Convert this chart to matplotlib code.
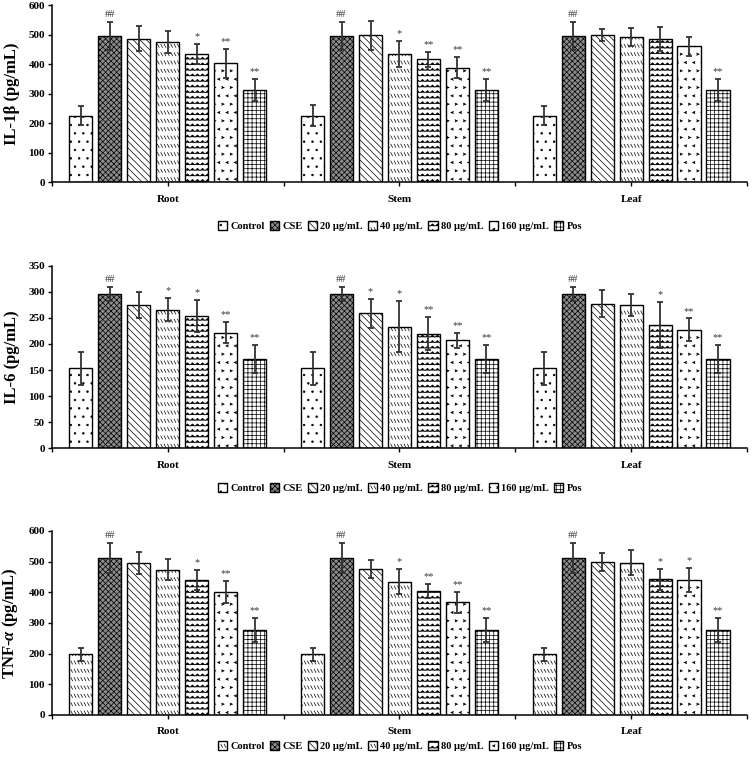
import numpy as np
import matplotlib
matplotlib.use("Agg")
import matplotlib.pyplot as plt
import matplotlib.hatch as mhatch
from matplotlib.path import Path

groups = ['Root', 'Stem', 'Leaf']
treatments = ['Control', 'CSE', '20 μg/mL', '40 μg/mL', '80 μg/mL', '160 μg/mL', 'Pos']

# rows = Root, Stem, Leaf ; columns = treatments
il1b_mean = [[226, 496, 487, 476, 435, 403, 312],
             [226, 496, 498, 435, 417, 388, 312],
             [226, 496, 500, 492, 487, 461, 312]]
il1b_err = [[33, 47, 43, 37, 35, 49, 37],
            [35, 47, 50, 43, 26, 36, 37],
            [33, 47, 21, 31, 41, 33, 38]]
il1b_sig = [['', '##', '', '', '*', '**', '**'],
            ['', '##', '', '*', '**', '**', '**'],
            ['', '##', '', '', '', '', '**']]

il6_mean = [[153, 296, 275, 266, 254, 222, 171],
            [153, 296, 259, 233, 220, 207, 171],
            [153, 296, 277, 275, 237, 227, 171]]
il6_err = [[32, 14, 25, 22, 30, 21, 27],
           [32, 14, 28, 49, 32, 14, 27],
           [32, 14, 26, 21, 44, 22, 27]]
il6_sig = [['', '##', '', '*', '*', '**', '**'],
           ['', '##', '*', '*', '**', '**', '**'],
           ['', '##', '', '', '*', '**', '**']]

tnf_mean = [[198, 512, 496, 473, 441, 400, 278],
            [198, 512, 476, 435, 404, 367, 278],
            [198, 512, 499, 496, 442, 439, 278]]
tnf_err = [[22, 49, 36, 34, 32, 36, 39],
           [22, 49, 29, 40, 24, 34, 39],
           [22, 49, 29, 41, 33, 39, 39]]
tnf_sig = [['', '##', '', '', '*', '**', '**'],
           ['', '##', '', '*', '**', '**', '**'],
           ['', '##', '', '', '*', '*', '**']]


# extra hatch patterns: z = zigzag rows, d = short backslash rows, k = chevrons
class ZigzagHatch(mhatch.HatchPatternBase):
    def __init__(self, hatch, density):
        self.rows = int(hatch.count('z') * density)
        self.cols = 20
        self.num_vertices = self.rows * (2 * self.cols + 1) if self.rows else 0

    def set_vertices_and_codes(self, vertices, codes):
        n = 2 * self.cols + 1
        xs = np.linspace(0, 1, n)
        amp = 0.011
        sign = np.where(np.arange(n) % 2 == 0, -1.0, 1.0)
        for r in range(self.rows):
            y0 = (r + 0.5) / self.rows
            vertices[r * n:(r + 1) * n, 0] = xs
            vertices[r * n:(r + 1) * n, 1] = y0 + amp * sign
            codes[r * n:(r + 1) * n] = Path.LINETO
            codes[r * n] = Path.MOVETO


class DashHatch(mhatch.HatchPatternBase):
    def __init__(self, hatch, density):
        n = hatch.count('d')
        self.rows = int(n * 2 * density)
        self.cols = int(n * 5 * density)
        self.num_vertices = self.rows * self.cols * 2

    def set_vertices_and_codes(self, vertices, codes):
        k = 0
        for r in range(self.rows):
            y = (r + 0.5) / self.rows
            for c in range(self.cols):
                x = (c + 0.25) / self.cols
                vertices[k] = (x, y + 0.016)
                vertices[k + 1] = (x + 0.5 / self.cols, y - 0.016)
                codes[k] = Path.MOVETO
                codes[k + 1] = Path.LINETO
                k += 2


class ChevronHatch(mhatch.HatchPatternBase):
    def __init__(self, hatch, density):
        n = hatch.count('k')
        self.rows = int(n * 2 * density)
        self.cols = int(n * 2 * density)
        self.num_vertices = self.rows * self.cols * 3

    def set_vertices_and_codes(self, vertices, codes):
        k = 0
        w = 0.14 / self.cols
        h = 0.13 / self.rows
        for r in range(self.rows):
            y = (r + 0.5) / self.rows
            d = 1 if r % 2 == 0 else -1
            for c in range(self.cols):
                x = (c + 0.25 + 0.5 * (r % 2)) / self.cols
                vertices[k] = (x + d * w, y + h)
                vertices[k + 1] = (x - d * w, y)
                vertices[k + 2] = (x + d * w, y - h)
                codes[k] = Path.MOVETO
                codes[k + 1] = Path.LINETO
                codes[k + 2] = Path.LINETO
                k += 3


mhatch._hatch_types.extend([ZigzagHatch, DashHatch, ChevronHatch])
mhatch._validate_hatch_pattern = lambda hatch: None

plt.rcParams['font.family'] = 'Liberation Serif'
plt.rcParams['font.weight'] = 'bold'
plt.rcParams['axes.labelweight'] = 'bold'
plt.rcParams['mathtext.fontset'] = 'custom'
plt.rcParams['mathtext.it'] = 'Liberation Serif:italic:bold'
plt.rcParams['mathtext.rm'] = 'Liberation Serif:bold'
plt.rcParams['hatch.linewidth'] = 0.5

hatches_a = ['..', 'xxxxxx', '\\' * 5, 'd', 'zzz', 'k', '++++']
hatches_b = ['d', 'xxxxxx', '\\' * 5, 'd', 'zzz', 'k', '++++']
faces = ['white', '#8c8c8c', 'white', 'white', 'white', 'white', 'white']

panels = [
    (il1b_mean, il1b_err, il1b_sig, 'IL-1β (pg/mL)', 600, 100, hatches_a,
     [0.069, 0.761, 0.923, 0.232], 0.703),
    (il6_mean, il6_err, il6_sig, 'IL-6 (pg/mL)', 350, 50, hatches_a,
     [0.069, 0.412, 0.923, 0.239], 0.3596),
    (tnf_mean, tnf_err, tnf_sig, 'TNF-$\\alpha$ (pg/mL)', 600, 100, hatches_b,
     [0.069, 0.0617, 0.923, 0.2415], 0.021),
]

fig = plt.figure(figsize=(7.53, 7.62), dpi=100)
centers = np.arange(len(groups)) + 0.5
step = 0.125
width = 0.1

for mean, err, sig, ylabel, ymax, ystep, hatches, pos, leg_y in panels:
    ax = fig.add_axes(pos)
    mean = np.array(mean)
    err = np.array(err)
    for i, name in enumerate(treatments):
        x = centers + (i - 3) * step
        ax.bar(x, mean[:, i], width, color=faces[i], edgecolor='black',
               linewidth=1.0, hatch=hatches[i], label=name, zorder=2)
        ax.errorbar(x, mean[:, i], yerr=err[:, i], fmt='none', ecolor='#333333',
                    elinewidth=1.3, capsize=2.2, capthick=1.3, zorder=3)
        for g in range(len(groups)):
            s = sig[g][i]
            if s:
                ax.annotate(s, (x[g], mean[g, i] + err[g, i]), xytext=(0, 2),
                            textcoords='offset points', ha='center', va='bottom',
                            fontsize=7.5, color='#3a3a3a', fontweight='normal')
    ax.set_xlim(0, 3)
    ax.set_ylim(0, ymax)
    ax.set_yticks(np.arange(0, ymax + 1, ystep))
    ax.set_xticks(centers)
    ax.set_xticklabels(groups, fontsize=8, fontweight='bold')
    ax.set_xticks([0, 1, 2, 3], minor=True)
    ax.tick_params(axis='x', which='both', direction='out', length=3, width=1, pad=6)
    ax.tick_params(axis='y', direction='out', length=3, width=1, labelsize=8, pad=2)
    for t in ax.get_yticklabels():
        t.set_fontweight('bold')
    ax.set_ylabel(ylabel, fontsize=12, fontweight='bold', labelpad=6)
    ax.spines['top'].set_visible(False)
    ax.spines['right'].set_visible(False)
    ax.spines['left'].set_linewidth(1.1)
    ax.spines['bottom'].set_linewidth(1.1)

    handles, labels = ax.get_legend_handles_labels()
    fig.legend(handles, labels, loc='center', bbox_to_anchor=(0.531, leg_y),
               ncol=7, frameon=False, handlelength=0.9,
               handleheight=0.9, handletextpad=0.3, columnspacing=0.5,
               borderpad=0.1, prop={'weight': 'bold', 'size': 7.5})

fig.savefig('out.png', dpi=100)
